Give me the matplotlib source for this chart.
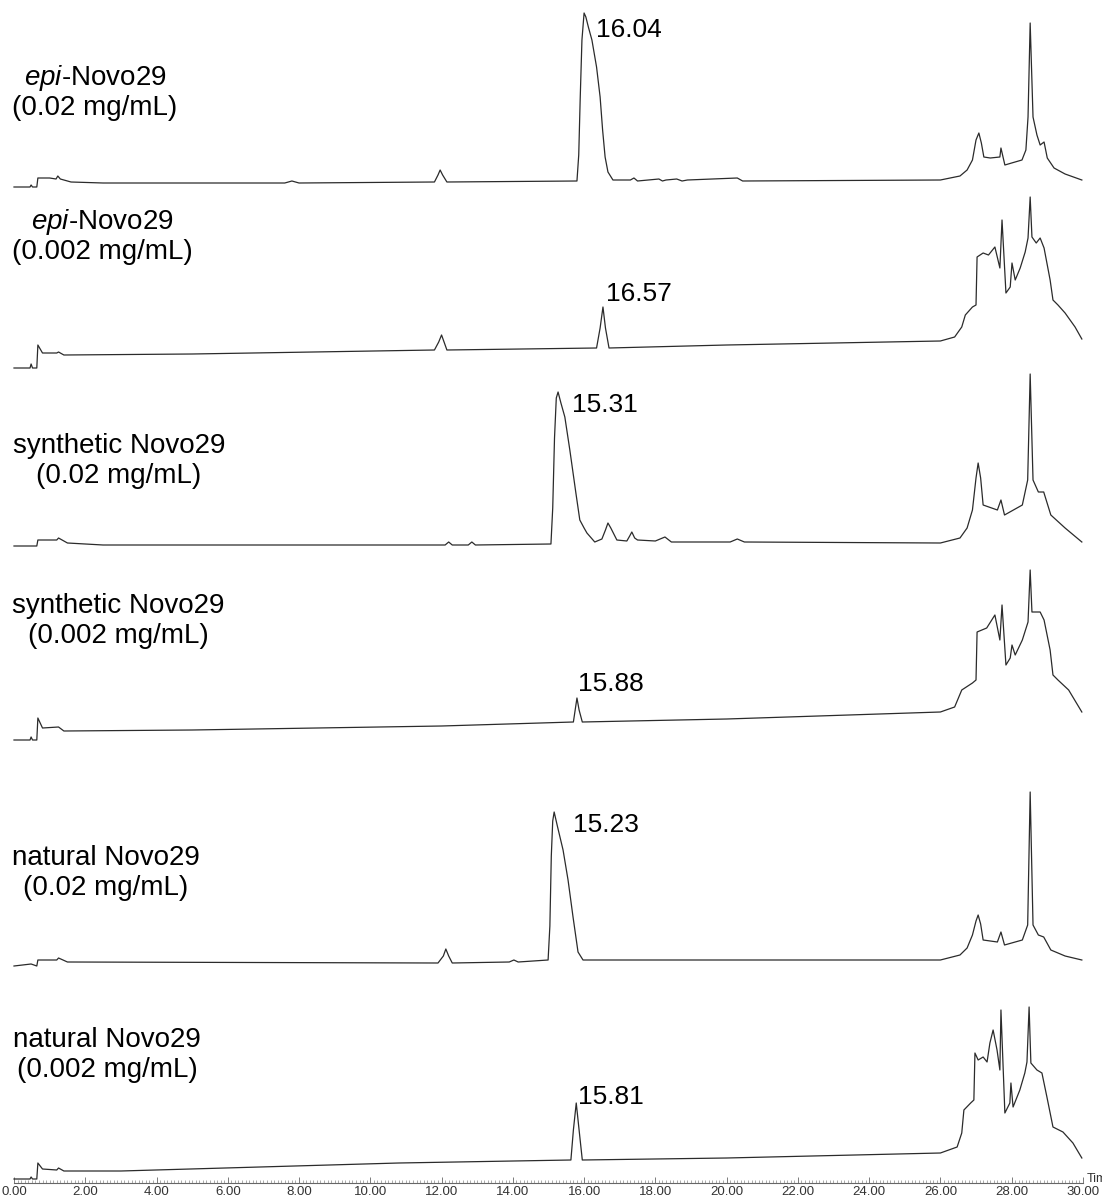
import numpy as np
import matplotlib
matplotlib.use("Agg")
import matplotlib.pyplot as plt
from matplotlib.ticker import MultipleLocator, FormatStrFormatter

plt.rcParams['font.family'] = ['Liberation Sans', 'DejaVu Sans']
plt.rcParams['mathtext.fontset'] = 'custom'
plt.rcParams['mathtext.rm'] = 'Liberation Sans'
plt.rcParams['mathtext.it'] = 'Liberation Sans:italic'

# DATA: retention time (min) and detector signal (arbitrary units)
t_epi_hi = [0.0, 0.45, 0.48, 0.52, 0.64, 0.67, 1.0, 1.18, 1.23, 1.3, 1.6, 2.5, 7.6, 7.8, 8.0,
            11.8, 11.9, 11.96, 12.03, 12.15, 15.8, 15.85, 15.89, 15.94, 16.0, 16.05, 16.12,
            16.22, 16.35, 16.45, 16.52, 16.59, 16.67, 16.81, 17.3, 17.4, 17.5, 18.1, 18.2,
            18.3, 18.6, 18.75, 18.9, 20.3, 20.45, 26.0, 26.55, 26.75, 26.9, 27.0, 27.08, 27.15,
            27.22, 27.4, 27.67, 27.70, 27.81, 28.0, 28.29, 28.40, 28.46, 28.52, 28.6, 28.71,
            28.8, 28.91, 29.0, 29.19, 29.5, 29.97]
s_epi_hi = [-2, -2, 0, -2, -2, 7, 7, 6, 9, 6, 3, 2, 2, 4, 2,
            3, 10, 15, 10, 3, 4, 30, 85, 145, 172, 168, 158,
            145, 118, 88, 55, 28, 13, 5, 5, 7, 4, 6, 4,
            5, 6, 4, 5, 7, 4, 5, 9, 15, 25, 45, 52, 42,
            28, 27, 28, 37, 20, 22, 25, 35, 68, 162, 68, 50,
            40, 43, 27, 17, 11, 5]

t_epi_lo = [0.0, 0.45, 0.48, 0.52, 0.64, 0.67, 0.8, 1.2, 1.25, 1.4, 5.0, 11.8, 11.92, 12.0,
            12.07, 12.15, 16.35, 16.45, 16.53, 16.6, 16.7, 20.0, 26.0, 26.4, 26.6, 26.7, 26.9,
            27.0, 27.03, 27.2, 27.35, 27.53, 27.67, 27.73, 27.84, 27.96, 28.01, 28.1, 28.24,
            28.38, 28.46, 28.52, 28.57, 28.69, 28.8, 28.91, 29.08, 29.16, 29.3, 29.5, 29.78,
            29.97]
s_epi_lo = [0, 0, 4, 0, 0, 23, 15, 15, 16, 13, 14, 18, 26, 33, 26, 18,
            20, 40, 61, 40, 20, 23, 27, 31, 41, 53, 61,
            63, 111, 115, 113, 121, 100, 148, 75, 81, 105, 88, 100,
            116, 130, 171, 131, 125, 130, 120, 88, 68, 63, 55, 41,
            29]

t_syn_hi = [0.0, 0.64, 0.67, 1.2, 1.25, 1.5, 2.5, 12.1, 12.2, 12.3, 12.75, 12.85, 12.95,
            15.07, 15.12, 15.17, 15.22, 15.27, 15.35, 15.46, 15.6, 15.77, 15.88, 16.0, 16.08,
            16.3, 16.5, 16.6, 16.67, 16.75, 16.92, 17.2, 17.28, 17.34, 17.42, 17.5, 18.0, 18.27,
            18.45, 20.1, 20.3, 20.5, 26.0, 26.55, 26.75, 26.9, 27.0, 27.06, 27.13, 27.2, 27.6,
            27.7, 27.8, 28.3, 28.45, 28.52, 28.6, 28.75, 28.9, 29.1, 29.5, 29.97]
s_syn_hi = [2, 2, 8, 8, 10, 5, 3, 3, 6, 3, 3, 6, 3,
            4, 40, 110, 150, 156, 145, 131, 98, 55, 28, 20, 15,
            6, 9, 18, 25, 20, 8, 7, 12, 16, 10, 8, 7, 11,
            6, 6, 9, 6, 5, 10, 20, 38, 70, 85, 70, 43, 38,
            48, 33, 43, 68, 174, 68, 56, 56, 33, 20, 6]

t_syn_lo = [0.0, 0.45, 0.48, 0.52, 0.64, 0.67, 0.8, 1.25, 1.4, 5.0, 12.0, 15.7, 15.75, 15.8,
            15.86, 15.95, 20.0, 26.0, 26.4, 26.6, 26.9, 27.0, 27.03, 27.3, 27.53, 27.67, 27.73,
            27.84, 27.96, 28.01, 28.1, 28.3, 28.46, 28.52, 28.57, 28.8, 28.91, 29.08, 29.16,
            29.3, 29.6, 29.97]
s_syn_lo = [0, 0, 3, 0, 0, 22, 12, 13, 9, 10, 14, 18, 30, 42,
            30, 18, 21, 28, 33, 50, 57, 60, 108, 112, 125, 100, 135,
            75, 82, 95, 85, 100, 118, 170, 128, 128, 120, 90, 65,
            60, 50, 28]

t_nat_hi = [0.0, 0.48, 0.64, 0.67, 1.2, 1.25, 1.5, 11.9, 12.05, 12.12, 12.2, 12.3, 13.9,
            14.03, 14.15, 14.99, 15.04, 15.08, 15.12, 15.16, 15.25, 15.41, 15.55, 15.69, 15.83,
            15.97, 26.0, 26.55, 26.75, 26.9, 27.0, 27.06, 27.13, 27.2, 27.6, 27.7, 27.8, 28.3,
            28.45, 28.52, 28.6, 28.75, 28.9, 29.1, 29.5, 29.97]
s_nat_hi = [0, 2, 0, 6, 6, 8, 4, 3, 10, 17, 10, 3, 4,
            6, 4, 6, 40, 110, 145, 154, 140, 116, 86, 49, 14,
            6, 6, 11, 18, 31, 45, 51, 42, 26, 24, 34, 21, 26,
            41, 174, 41, 31, 29, 16, 10, 6]

t_nat_lo = [0.0, 0.45, 0.48, 0.52, 0.64, 0.67, 0.8, 1.2, 1.25, 1.4, 3.0, 10.8, 15.63, 15.7,
            15.78, 15.86, 15.95, 20.0, 26.0, 26.47, 26.6, 26.66, 26.85, 26.94, 26.97, 27.06,
            27.2, 27.31, 27.39, 27.48, 27.59, 27.67, 27.7, 27.81, 27.95, 27.98, 28.04, 28.23,
            28.37, 28.43, 28.49, 28.54, 28.71, 28.85, 28.99, 29.16, 29.44, 29.72, 29.97]
s_nat_lo = [1, 1, 3, 1, 1, 17, 11, 10, 12, 9, 9, 17, 20, 50,
            77, 50, 20, 22, 27, 33, 47, 70, 77, 80, 127, 120,
            123, 118, 137, 150, 130, 110, 170, 67, 77, 97, 73, 90,
            107, 118, 173, 117, 110, 107, 83, 53, 48, 37, 22]

times = [t_epi_hi, t_epi_lo, t_syn_hi, t_syn_lo, t_nat_hi, t_nat_lo]
signals = [s_epi_hi, s_epi_lo, s_syn_hi, s_syn_lo, s_nat_hi, s_nat_lo]
names = [r'$\mathit{epi}$-Novo29', r'$\mathit{epi}$-Novo29', 'synthetic Novo29',
         'synthetic Novo29', 'natural Novo29', 'natural Novo29']
concs = ['(0.02 mg/mL)', '(0.002 mg/mL)', '(0.02 mg/mL)', '(0.002 mg/mL)',
         '(0.02 mg/mL)', '(0.002 mg/mL)']
peak_labels = ['16.04', '16.57', '15.31', '15.88', '15.23', '15.81']

# layout (pixel rows of each trace's zero line, label anchors)
base_rows = [185, 368, 548, 740, 966, 1180]
name_pos = [(95, 78, 108), (102, 222, 252), (119, 446, 476), (118, 606, 636),
            (106, 858, 888), (107, 1040, 1070)]
peak_lab_pos = [(596, 30), (606, 294), (572, 405), (578, 684), (573, 825), (578, 1097)]

W, H = 1102, 1200
x0_px, px_per_min = 14, 35.63
axis_row = 1183

fig = plt.figure(figsize=(W / 100, H / 100), dpi=100)
ax = fig.add_axes([x0_px / W, (H - axis_row) / H, 30 * px_per_min / W, axis_row / H])
ax.set_xlim(0, 30)
ax.set_ylim(axis_row, 0)

def to_t(px):
    return (px - x0_px) / px_per_min

for i in range(6):
    t = np.array(times[i])
    s = np.array(signals[i])
    ax.plot(t, base_rows[i] - s, color='#2b2b2b', lw=0.9, clip_on=False)
    cx, y1, y2 = name_pos[i]
    ax.text(to_t(cx), y1, names[i], ha='center', va='center', fontsize=20, clip_on=False)
    ax.text(to_t(cx), y2, concs[i], ha='center', va='center', fontsize=20, clip_on=False)
    lx, ly = peak_lab_pos[i]
    ax.text(to_t(lx), ly, peak_labels[i], ha='left', va='center', fontsize=19, clip_on=False)

for sp in ['top', 'left', 'right']:
    ax.spines[sp].set_visible(False)
ax.spines['bottom'].set_color('#666666')
ax.spines['bottom'].set_linewidth(0.8)
ax.set_yticks([])
ax.xaxis.set_major_locator(MultipleLocator(2))
ax.xaxis.set_minor_locator(MultipleLocator(0.1))
ax.xaxis.set_major_formatter(FormatStrFormatter('%.2f'))
ax.tick_params(axis='x', which='major', direction='in', length=4, width=0.6,
               color='#666666', labelsize=9.5, labelcolor='#333333', pad=2)
ax.tick_params(axis='x', which='minor', direction='in', length=2, width=0.5, color='#888888')
ax.text(30.12, axis_row - 4, 'Time', ha='left', va='center', fontsize=9, color='#333333',
        clip_on=False)

fig.savefig('out.png', dpi=100)
